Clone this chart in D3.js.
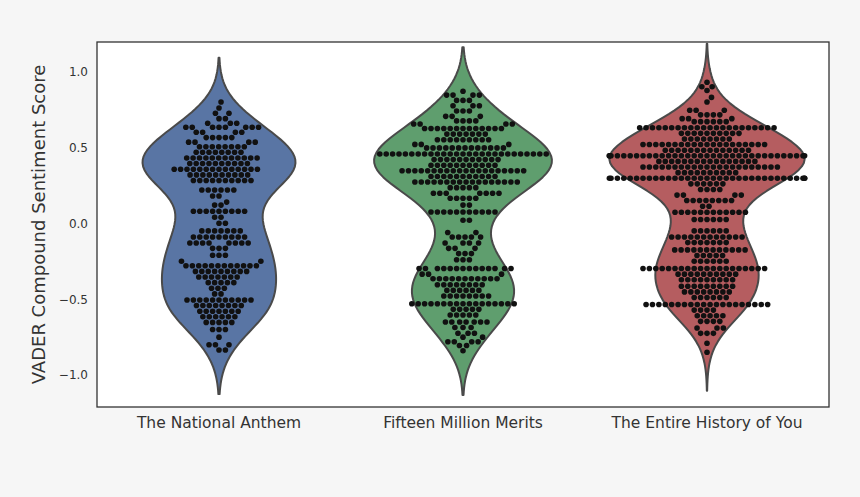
<!DOCTYPE html>
<html><head><meta charset="utf-8">
<script src="https://cdn.jsdelivr.net/npm/d3@7"></script>
<style>body{margin:0;background:#f6f6f6;} svg{display:block}</style>
</head><body><svg id="c" width="860" height="497"></svg>
<script>
// ---- data: [compound score, number of lines with that score] ----
const categories = ["The National Anthem", "Fifteen Million Merits", "The Entire History of You"];
const anthemRows = [
  [0.80,1],[0.76,1],[0.725,2],[0.69,2],[0.66,3],[0.633,8],[0.60,4],[0.565,5],[0.535,4],[0.505,8],
  [0.468,8],[0.431,12],[0.394,10],[0.356,14],[0.319,10],[0.282,10],[0.22,6],[0.18,2],[0.14,1],
  [0.12,2],[0.08,9],[0.04,2],[0.0,2],[-0.05,7],[-0.09,9],[-0.13,8],[-0.165,3],[-0.21,3],[-0.25,2],
  [-0.28,12],[-0.317,9],[-0.354,7],[-0.391,5],[-0.428,3],[-0.465,2],[-0.505,11],[-0.542,8],
  [-0.579,7],[-0.616,6],[-0.653,5],[-0.70,3],[-0.75,1],[-0.80,3],[-0.835,2]
];
const meritsRows = [
  [0.87,1],[0.845,4],[0.81,3],[0.775,3],[0.74,3],[0.705,3],[0.675,4],[0.655,4],[0.625,13],
  [0.588,7],[0.551,9],[0.52,3],[0.497,13],[0.457,27],[0.42,11],[0.383,11],[0.346,20],[0.309,11],
  [0.272,17],[0.235,5],[0.198,7],[0.165,5],[0.12,2],[0.075,11],[0.02,2],[-0.06,2],[-0.09,5],
  [-0.13,4],[-0.165,3],[-0.20,3],[-0.24,3],[-0.298,14],[-0.335,3],[-0.365,11],[-0.405,8],
  [-0.442,6],[-0.479,8],[-0.53,17],[-0.567,5],[-0.604,5],[-0.65,7],[-0.687,3],[-0.724,3],
  [-0.75,2],[-0.78,4],[-0.805,2],[-0.84,1]
];
const historyRows = [
  [0.93,1],[0.90,2],[0.875,1],[0.83,1],[0.80,1],[0.745,3],[0.715,4],[0.69,3],[0.67,6],[0.63,22],
  [0.593,10],[0.556,8],[0.519,20],[0.482,14],[0.445,34],[0.408,16],[0.371,22],[0.334,10],
  [0.297,34],[0.26,6],[0.223,4],[0.186,4],[0.15,8],[0.113,2],[0.073,12],[0.025,6],[-0.05,6],
  [-0.09,12],[-0.127,7],[-0.175,12],[-0.212,5],[-0.25,6],[-0.298,20],[-0.335,10],[-0.372,9],
  [-0.415,9],[-0.452,8],[-0.489,6],[-0.535,20],[-0.572,4],[-0.609,5],[-0.646,4],[-0.69,3],
  [-0.725,3],[-0.79,1],[-0.85,1]
];
const yTicks = [-1.0, -0.5, 0.0, 0.5, 1.0];
const yTickLabels = ["\u22121.0", "\u22120.5", "0.0", "0.5", "1.0"];
const yLabel = "VADER Compound Sentiment Score";
const colors = ["#5975a4", "#5f9e6e", "#b55d60"];

// ---- layout ----
const W = 860, H = 497;
const m = {left: 97, right: 829, top: 42, bottom: 407};
const svg = d3.select("#c");
svg.append("rect").attr("width", W).attr("height", H).attr("fill", "#f6f6f6");
svg.append("rect").attr("x", m.left).attr("y", m.top)
  .attr("width", m.right - m.left).attr("height", m.bottom - m.top).attr("fill", "#ffffff");

const x = d3.scaleBand().domain(categories).range([m.left, m.right]).padding(0);
const y = d3.scaleLinear().domain([-1.2105, 1.195]).range([m.bottom, m.top]);

svg.append("defs").append("clipPath").attr("id", "pc").append("rect")
  .attr("x", m.left).attr("y", m.top).attr("width", m.right - m.left).attr("height", m.bottom - m.top);

const expand = rows => rows.flatMap(([v, c]) => d3.range(c).map(() => v));
const datasets = [anthemRows, meritsRows, historyRows].map(expand);

function kde(vals) {
  const n = vals.length, sd = d3.deviation(vals);
  const bw = sd * Math.pow(n, -1 / 5);
  const lo = d3.min(vals) - 2 * bw, hi = d3.max(vals) + 2 * bw;
  return d3.range(100).map(i => {
    const g = lo + (hi - lo) * i / 99;
    const dens = d3.sum(vals, v => Math.exp(-0.5 * ((g - v) / bw) ** 2)) / (n * bw * Math.sqrt(2 * Math.PI));
    return [g, dens];
  });
}
const dens = datasets.map(kde);
const gmax = d3.max(dens, d => d3.max(d, e => e[1]));
const halfMax = 0.4 * x.step();

const plot = svg.append("g").attr("clip-path", "url(#pc)");

dens.forEach((d, i) => {
  const cx = x(categories[i]) + x.bandwidth() / 2;
  const area = d3.area()
    .y(e => y(e[0]))
    .x0(e => cx - e[1] / gmax * halfMax)
    .x1(e => cx + e[1] / gmax * halfMax);
  plot.append("path").attr("d", area(d))
    .attr("fill", colors[i]).attr("stroke", "#4a4a4a").attr("stroke-width", 2)
    .attr("stroke-linejoin", "round");
});

// ---- swarm ----
const D = 6.4, R = 2.8;
datasets.forEach((vals, i) => {
  const cx = x(categories[i]) + x.bandwidth() / 2;
  const pts = vals.slice().sort((a, b) => a - b).map(v => ({v, y: y(v)}));
  const placed = [];
  pts.forEach(p => {
    const nb = placed.filter(q => Math.abs(q.y - p.y) < D);
    const cands = [0];
    nb.forEach(q => {
      const dx = Math.sqrt(D * D - (q.y - p.y) ** 2);
      cands.push(q.x + dx, q.x - dx);
    });
    const sorted = cands.map((c, k) => ({c, k})).sort((a, b) => Math.abs(a.c) - Math.abs(b.c) || a.k - b.k);
    let xo = 0;
    for (const s of sorted) {
      const ok = nb.every(q => (q.x - s.c) ** 2 + (q.y - p.y) ** 2 >= D * D - 0.01);
      if (ok) { xo = s.c; break; }
    }
    p.x = xo;
    placed.push(p);
  });
  placed.forEach(p => { p.x = Math.max(-halfMax, Math.min(halfMax, p.x)); });
  plot.append("g").selectAll("circle").data(placed).join("circle")
    .attr("cx", p => cx + p.x).attr("cy", p => p.y).attr("r", R).attr("fill", "#111");
});

// ---- frame & axes ----
svg.append("rect").attr("x", m.left).attr("y", m.top)
  .attr("width", m.right - m.left).attr("height", m.bottom - m.top)
  .attr("fill", "none").attr("stroke", "#333").attr("stroke-width", 1.3);

const yAxis = d3.axisLeft(y).tickValues(yTicks).tickSize(0).tickPadding(9)
  .tickFormat((d, k) => yTickLabels[k]);
const gy = svg.append("g").attr("transform", `translate(${m.left},0)`).call(yAxis);
gy.select(".domain").remove();
gy.selectAll("text").attr("font-family", "DejaVu Sans").attr("font-size", 12).attr("fill", "#333");

const xAxis = d3.axisBottom(x).tickSize(0).tickPadding(10);
const gx = svg.append("g").attr("transform", `translate(0,${m.bottom})`).call(xAxis);
gx.select(".domain").remove();
gx.selectAll("text").attr("font-family", "DejaVu Sans").attr("font-size", 15.5).attr("fill", "#333");

svg.append("text").attr("transform", `translate(45,${(m.top + m.bottom) / 2}) rotate(-90)`)
  .attr("text-anchor", "middle").attr("font-family", "DejaVu Sans").attr("font-size", 18)
  .attr("fill", "#333").text(yLabel);
</script></body></html>
